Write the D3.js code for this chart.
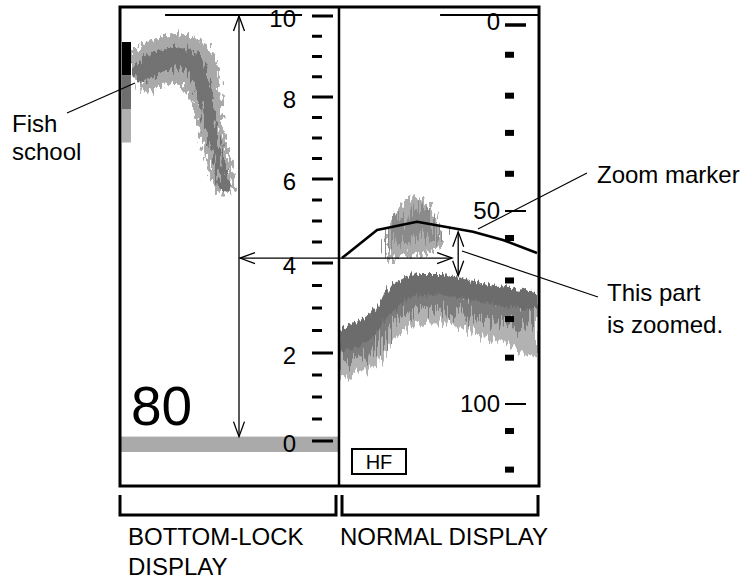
<!DOCTYPE html>
<html>
<head>
<meta charset="utf-8">
<script src="https://cdnjs.cloudflare.com/ajax/libs/d3/7.8.5/d3.min.js"></script>
<style>
  body { margin: 0; background: #fff; }
  svg { display: block; font-family: "Liberation Sans", Arial, sans-serif; }
</style>
</head>
<body>
<svg id="chart"></svg>
<script>
// DATA
// bottom-lock scale (height above seabed)
const heightTicks = [0, 2, 4, 6, 8, 10];
const heightMinor = [0.5, 1, 1.5, 2.5, 3, 3.5, 4.5, 5, 5.5, 6.5, 7, 7.5, 8.5, 9, 9.5];
// normal display scale (depth)
const depthTicks = [0, 50, 100];
const depthMinor = [8, 19, 29, 40, 57, 68, 78, 88, 107, 117];

// fish school in bottom-lock display (ping, height, echo thickness)
const schoolLPing = [6.5, 13.4, 20.3, 27.2, 33.2, 36.4, 39.2, 41, 43.8, 46.5, 48.4];
const schoolLHeight = [8.54, 8.74, 8.91, 8.96, 8.84, 8.42, 7.93, 7.32, 6.71, 6.10, 5.69];
const schoolLThick = [1.05, 1.12, 1.18, 1.18, 1.1, 0.9, 0.7, 0.6, 0.58, 0.52, 0.4];

// fish school in normal display
const schoolRPing = [24.4, 27.9, 33, 38, 43.1, 48.2, 51.8];
const schoolRTop = [55.4, 50.3, 47, 46, 47, 50.3, 56.2];
const schoolRBottom = [63.2, 62.2, 61.4, 61.1, 61.1, 60.6, 58.8];

// seabed echo in normal display
const bandPing = [0, 10, 18, 23, 30, 40, 51, 60, 71, 81, 100];
const bandTop = [80.5, 78.3, 75.5, 71.3, 68.1, 66.3, 66.3, 67.2, 68.5, 69.5, 71];
const bandDark = [86.5, 84.5, 82.1, 78.2, 74.4, 71.8, 71.8, 72.5, 73.6, 74.4, 75.6];
const bandBottom = [93.3, 91.7, 89.9, 87.3, 82.1, 79, 78.8, 80, 82.1, 83.9, 87.6];

// zoom marker
const markerPing = [1, 18.8, 39.1, 67.5, 82.7, 100];
const markerDepth = [62.2, 54.9, 52.8, 55.4, 57.5, 60.9];

const colorBar = ["#000000", "#6e6e6e", "#b0b0b0"];
const rangeLabel = "80";

// SETUP
const W = 751, H = 580;
const svg = d3.select("#chart").attr("width", W).attr("height", H);
const frame = { left: 120, right: 539, top: 7, bottom: 486, split: 339 };

const xLeft = d3.scaleLinear().domain([0, 100]).range([121, 338]);
const xRight = d3.scaleLinear().domain([0, 100]).range([340, 537]);
const yHeight = d3.scaleLinear().domain(heightTicks).range([441, 353, 263, 179, 97, 16]);
const yDepth = d3.scaleLinear().domain(depthTicks).range([25, 211, 404]);

const defs = svg.append("defs");

function jagFilter(id, fx, fy, scale, seed, octaves) {
  const f = defs.append("filter").attr("id", id)
    .attr("filterUnits", "userSpaceOnUse")
    .attr("x", 0).attr("y", 0).attr("width", W).attr("height", H);
  f.append("feTurbulence").attr("type", "fractalNoise")
    .attr("baseFrequency", `${fx} ${fy}`).attr("numOctaves", octaves || 1)
    .attr("seed", seed).attr("result", "noise");
  f.append("feDisplacementMap").attr("in", "SourceGraphic").attr("in2", "noise")
    .attr("scale", scale).attr("xChannelSelector", "G").attr("yChannelSelector", "R");
}
jagFilter("jagTop", 0.5, 0.05, 12, 3);
jagFilter("jagLight", 0.45, 0.03, 24, 5);
jagFilter("jagMix", 0.6, 0.02, 40, 7, 2);
jagFilter("jagFish", 0.4, 0.15, 20, 11);
jagFilter("jagCore", 0.4, 0.1, 18, 13);

defs.append("clipPath").attr("id", "clipL").append("rect")
  .attr("x", frame.left).attr("y", frame.top)
  .attr("width", frame.split - frame.left).attr("height", frame.bottom - frame.top);
defs.append("clipPath").attr("id", "clipR").append("rect")
  .attr("x", frame.split).attr("y", frame.top)
  .attr("width", frame.right - frame.split).attr("height", frame.bottom - frame.top);

const left = svg.append("g").attr("clip-path", "url(#clipL)");
const right = svg.append("g").attr("clip-path", "url(#clipR)");

// LEFT PANEL: seabed line of bottom-lock
left.append("rect")
  .attr("x", xLeft(0)).attr("width", xLeft(100) - xLeft(0))
  .attr("y", yHeight(0.1)).attr("height", yHeight(-0.25) - yHeight(0.1))
  .attr("fill", "#aaaaaa");

// fish school (left), drawn as a tapered stroke
function drawSchoolLeft(){
  const pts = schoolLPing.map((p, i) => [xLeft(p), yHeight(schoolLHeight[i])]);
  const pxPerM = yHeight(8) - yHeight(9);
  const thick = schoolLThick.map(t => t * pxPerM);
  // chord lengths to spread thickness along the curve
  const cum = [0];
  for (let i = 1; i < pts.length; i++)
    cum.push(cum[i - 1] + Math.hypot(pts[i][0] - pts[i - 1][0], pts[i][1] - pts[i - 1][1]));
  const tmp = left.append("path")
    .attr("d", d3.line().curve(d3.curveCatmullRom)(pts)).attr("fill", "none");
  const L = tmp.node().getTotalLength();
  const samples = [];
  for (let s = 0; s <= L; s += 1.5) {
    const p = tmp.node().getPointAtLength(s);
    const c = s / L * cum[cum.length - 1];
    let k = d3.bisectRight(cum, c) - 1;
    k = Math.max(0, Math.min(k, cum.length - 2));
    const f = (c - cum[k]) / (cum[k + 1] - cum[k]);
    samples.push({ x: p.x, y: p.y, w: thick[k] + (thick[k + 1] - thick[k]) * f });
  }
  tmp.remove();
  // overlapping short segments with butt caps
  const segs = samples.slice(0, -3).map((d, i) => [d, samples[i + 3]]);
  const layer = (filter, color, k) => left.append("g").attr("filter", `url(#${filter})`)
    .selectAll("line").data(segs).enter().append("line")
    .attr("x1", d => d[0].x).attr("y1", d => d[0].y)
    .attr("x2", d => d[1].x).attr("y2", d => d[1].y)
    .attr("stroke", color).attr("stroke-linecap", "butt")
    .attr("stroke-width", d => d[0].w * k);
  layer("jagFish", "#a9a9a9", 1);
  layer("jagCore", "#737373", 0.45);
}
drawSchoolLeft();

// colour bar
left.selectAll(".bar").data(colorBar).enter().append("rect")
  .attr("x", 122).attr("width", 9)
  .attr("y", (d, i) => 42 + i * 33.5).attr("height", 33.5)
  .attr("fill", d => d);

// RIGHT PANEL: seabed echo
const bandData = bandPing.map((p, i) => ({ p, top: bandTop[i], dark: bandDark[i], bot: bandBottom[i] }));
const area = (y0, y1) => d3.area().curve(d3.curveMonotoneX)
  .x(d => xRight(d.p)).y0(d => yDepth(y0(d))).y1(d => yDepth(y1(d)));

right.append("path").datum(bandData)
  .attr("d", area(d => d.top + 3, d => d.bot))
  .attr("fill", "#b2b2b2").attr("filter", "url(#jagLight)");
right.append("path").datum(bandData)
  .attr("d", area(d => d.top + 3, d => d.dark + (d.bot - d.dark) * 0.5))
  .attr("fill", "#7c7c7c").attr("filter", "url(#jagMix)");
right.append("path").datum(bandData)
  .attr("d", area(d => d.top, d => d.dark))
  .attr("fill", "#6c6c6c").attr("filter", "url(#jagTop)");

// fish school (right)
const schoolRData = schoolRPing.map((p, i) => ({ p, top: schoolRTop[i], bot: schoolRBottom[i] }));
right.append("path").datum(schoolRData)
  .attr("d", area(d => d.top, d => d.bot).curve(d3.curveBasis))
  .attr("fill", "#acacac").attr("filter", "url(#jagFish)");
right.append("path").datum(schoolRData)
  .attr("d", area(d => d.top + (d.bot - d.top) * 0.2, d => d.bot - (d.bot - d.top) * 0.3).curve(d3.curveBasis))
  .attr("fill", "#8a8a8a").attr("filter", "url(#jagMix)");

// zoom marker
right.append("path")
  .datum(markerPing.map((p, i) => [xRight(p), yDepth(markerDepth[i])]))
  .attr("d", d3.line())
  .attr("fill", "none").attr("stroke", "#000").attr("stroke-width", 2.6)
  .attr("stroke-linejoin", "round");

// SCALES
const ink = svg.append("g");
// left: height ticks
ink.selectAll(".hmaj").data(heightTicks).enter().append("line")
  .attr("x1", 312).attr("x2", 333)
  .attr("y1", d => yHeight(d)).attr("y2", d => yHeight(d))
  .attr("stroke", "#000").attr("stroke-width", 3);
ink.selectAll(".hmin").data(heightMinor).enter().append("line")
  .attr("x1", 312).attr("x2", 322)
  .attr("y1", d => yHeight(d)).attr("y2", d => yHeight(d))
  .attr("stroke", "#000").attr("stroke-width", 3);
ink.selectAll(".hlab").data(heightTicks).enter().append("text")
  .attr("x", 296).attr("y", d => yHeight(d) + 11)
  .attr("text-anchor", "end").attr("font-size", 24).text(d => d);

// right: depth ticks
ink.selectAll(".dmaj").data(depthTicks).enter().append("line")
  .attr("x1", 505).attr("x2", 526)
  .attr("y1", d => yDepth(d)).attr("y2", d => yDepth(d))
  .attr("stroke", "#000").attr("stroke-width", (d, i) => i === 0 ? 3.5 : 2);
ink.selectAll(".dmin").data(depthMinor).enter().append("rect")
  .attr("x", 505).attr("width", 9)
  .attr("y", d => yDepth(d) - 3).attr("height", 6)
  .attr("fill", "#000");
ink.selectAll(".dlab").data(depthTicks).enter().append("text")
  .attr("x", 500).attr("y", d => yDepth(d) + (d === 0 ? 5 : 8))
  .attr("text-anchor", "end").attr("font-size", 24).text(d => d);

// transmission lines at the top
ink.append("line").attr("x1", xLeft(20.3)).attr("x2", 302)
  .attr("y1", yHeight(10) - 1).attr("y2", yHeight(10) - 1)
  .attr("stroke", "#000").attr("stroke-width", 2.2);
ink.append("line").attr("x1", xRight(50.8)).attr("x2", frame.right)
  .attr("y1", yHeight(10) - 1).attr("y2", yHeight(10) - 1)
  .attr("stroke", "#000").attr("stroke-width", 2.2);

// ARROWS
function head(g, x, y, dx, dy) {
  // open V head pointing in (dx,dy)
  const len = 15, spread = 5.5;
  const px = -dy, py = dx;
  g.append("path")
    .attr("d", `M${x - dx * len + px * spread},${y - dy * len + py * spread}L${x},${y}L${x - dx * len - px * spread},${y - dy * len - py * spread}`)
    .attr("fill", "none").attr("stroke", "#000").attr("stroke-width", 1.3);
}
const ax = 239;
ink.append("line").attr("x1", ax).attr("x2", ax)
  .attr("y1", yHeight(10)).attr("y2", yHeight(0.1))
  .attr("stroke", "#000").attr("stroke-width", 1.3);
head(ink, ax, yHeight(10), 0, -1);
head(ink, ax, yHeight(0.1), 0, 1);

const hy = yDepth(markerDepth[0]);
ink.append("line").attr("x1", 240).attr("x2", xRight(56.9))
  .attr("y1", hy).attr("y2", hy).attr("stroke", "#000").attr("stroke-width", 1.3);
head(ink, 240, hy, -1, 0);
head(ink, xRight(56.9), hy, 1, 0);

const vx = xRight(60);
ink.append("line").attr("x1", vx).attr("x2", vx)
  .attr("y1", yDepth(55.4)).attr("y2", yDepth(66.8))
  .attr("stroke", "#000").attr("stroke-width", 1.3);
head(ink, vx, yDepth(55.4), 0, -1);
head(ink, vx, yDepth(66.8), 0, 1);

// range readout and HF box
ink.append("text").attr("x", 131).attr("y", 425)
  .attr("font-size", 55).text(rangeLabel);
ink.append("rect").attr("x", 352).attr("y", 449).attr("width", 54).attr("height", 25)
  .attr("fill", "#fff").attr("stroke", "#000").attr("stroke-width", 2);
ink.append("text").attr("x", 379).attr("y", 469).attr("text-anchor", "middle")
  .attr("font-size", 20).text("HF");

// FRAME
ink.append("rect")
  .attr("x", frame.left).attr("y", frame.top)
  .attr("width", frame.right - frame.left).attr("height", frame.bottom - frame.top)
  .attr("fill", "none").attr("stroke", "#000").attr("stroke-width", 3);
ink.append("line").attr("x1", frame.split).attr("x2", frame.split)
  .attr("y1", frame.top).attr("y2", frame.bottom)
  .attr("stroke", "#000").attr("stroke-width", 2.5);

// brackets
ink.append("path").attr("d", "M120,495V515H336V495")
  .attr("fill", "none").attr("stroke", "#000").attr("stroke-width", 3);
ink.append("path").attr("d", "M342,495V515H538V495")
  .attr("fill", "none").attr("stroke", "#000").attr("stroke-width", 3);

// ANNOTATIONS
const notes = svg.append("g").attr("font-size", 24).attr("fill", "#000");
notes.append("text").attr("x", 12).attr("y", 132).text("Fish");
notes.append("text").attr("x", 12).attr("y", 160).text("school");
notes.append("text").attr("x", 597).attr("y", 183).text("Zoom marker");
notes.append("text").attr("x", 607).attr("y", 301).text("This part");
notes.append("text").attr("x", 607).attr("y", 333).text("is zoomed.");
notes.append("text").attr("x", 128).attr("y", 545).text("BOTTOM-LOCK");
notes.append("text").attr("x", 128).attr("y", 575).text("DISPLAY");
notes.append("text").attr("x", 340).attr("y", 545).text("NORMAL DISPLAY");

const leaders = [[67, 113, 135, 83], [587, 173, 478, 229], [598, 297, 462, 251]];
svg.selectAll(".leader").data(leaders).enter().append("line")
  .attr("x1", d => d[0]).attr("y1", d => d[1]).attr("x2", d => d[2]).attr("y2", d => d[3])
  .attr("stroke", "#000").attr("stroke-width", 1.2);
</script>
</body>
</html>
